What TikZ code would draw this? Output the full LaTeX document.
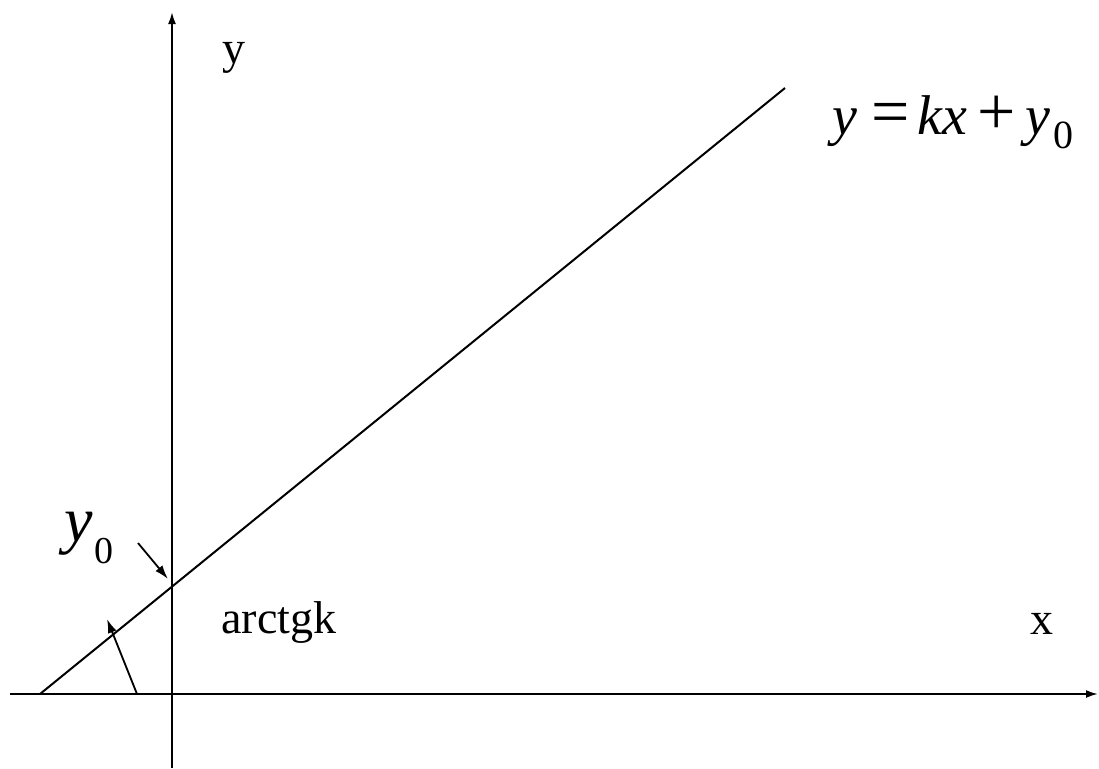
\documentclass[tikz,border=0pt]{standalone}
\usepackage{fontspec}
\setmainfont{Liberation Serif}
\usetikzlibrary{arrows.meta, positioning}

\newcommand{\bigop}[1]{{\fontsize{34}{34}\selectfont\upshape #1}}

\begin{document}
\begin{tikzpicture}[
    x=0.5pt,
    y=-0.5pt,
    axis/.style={draw=black, line width=1pt, -{Latex[length=6pt, width=4pt]}},
    graph/.style={draw=black, line width=1pt},
    pointer/.style={draw=black, line width=0.9pt, -{Latex[length=7pt, width=4.5pt]}},
    label/.style={inner sep=0pt, font=\fontsize{23}{27}\selectfont},
    formula/.style={inner sep=0pt, font=\fontsize{28}{34}\selectfont}
]
    \useasboundingbox (0,0) rectangle (1099,768);

    \coordinate (xstart) at (10,694);
    \coordinate (xend) at (1098,694);
    \coordinate (ystart) at (172,768);
    \coordinate (yend) at (172,12);
    \coordinate (origin) at (172,694);
    \coordinate (xmark) at (526,694);
    \coordinate (lstart) at (40,694);
    \coordinate (lend) at (785,88);
    \coordinate (y0tail) at (138,543);
    \coordinate (y0tip) at (168,579);
    \coordinate (angtail) at (137,694);
    \coordinate (angtip) at (107,619);

    \node [label, anchor=base west] (ylabel) at (222,63) {y};
    \node [label, anchor=base west] (xlabel) at (1030,634) {x};
    \node [label, anchor=base west] (angle) at (221,633) {arctgk};
    \node [formula, anchor=base west] (eqn) at (832,134) {\itshape y\hspace{7pt}\bigop{=}\hspace{4pt}\itshape kx\hspace{5pt}\bigop{+}\hspace{5pt}\itshape y\hspace{1.5pt}\upshape\raisebox{-7pt}{\fontsize{20}{20}\selectfont 0}};
    \node [formula, anchor=base west, font=\fontsize{32}{38}\selectfont] (y0label) at (64,541) {\itshape y\hspace{1pt}\upshape\raisebox{-11pt}{\fontsize{19}{19}\selectfont 0}};

    \path [axis] (xstart) -- (xend);
    \path [axis] (ystart) -- (yend);
    \path [graph, line width=1.3pt] (origin) -- (xmark);
    \path [graph] (lstart) -- (lend);
    \path [pointer] (y0tail) -- (y0tip);
    \path [pointer] (angtail) -- (angtip);
\end{tikzpicture}
\end{document}
